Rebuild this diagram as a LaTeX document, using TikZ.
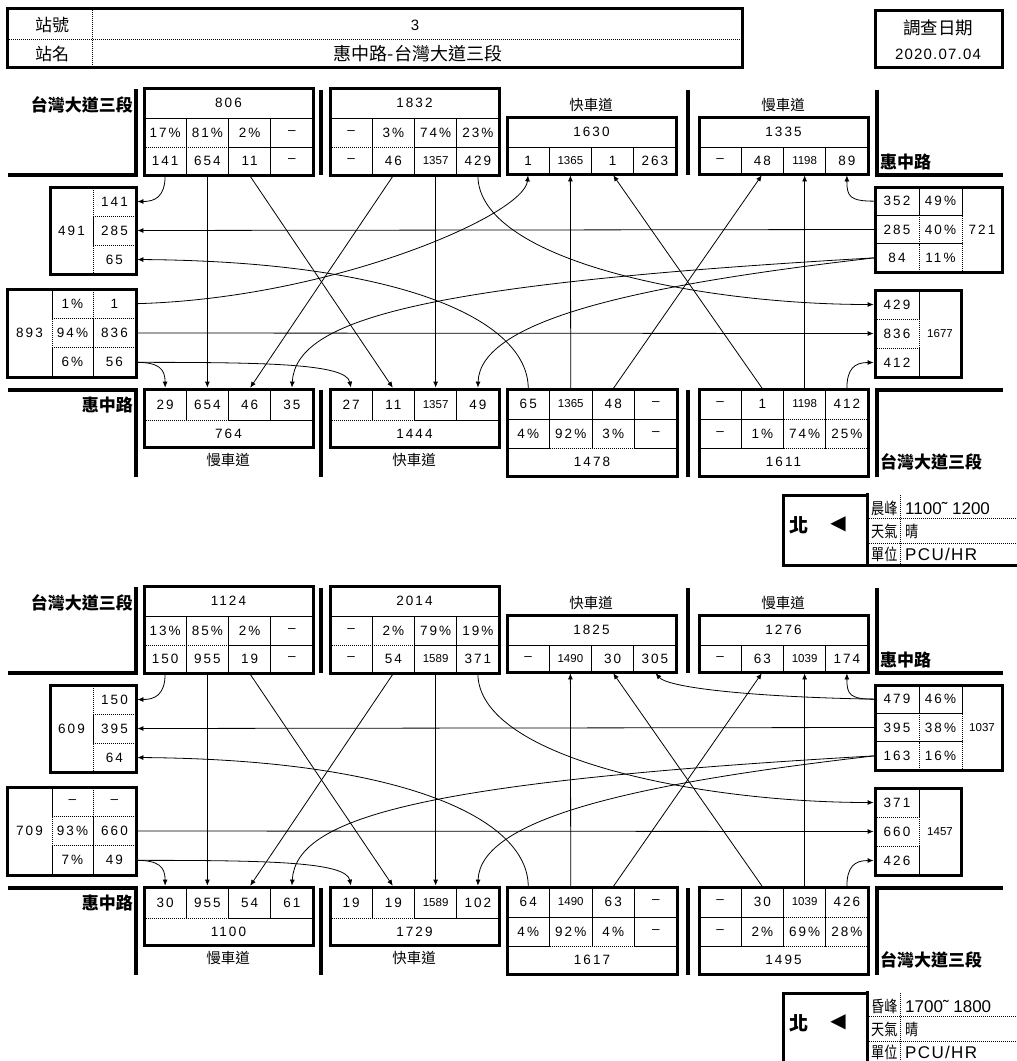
\documentclass[tikz,border=0pt]{standalone}
\usepackage{fontspec}
\setmainfont{Liberation Sans}
\newfontfamily\numfont[LetterSpace=15]{Liberation Sans}
\newfontfamily\datefont[LetterSpace=8]{Liberation Sans}
\newfontfamily\cjk{Noto Sans CJK TC}
\newfontfamily\cjknarrow[FakeStretch=0.82]{Noto Sans CJK TC}
\newfontfamily\symfont{DejaVu Sans}
\usetikzlibrary{arrows.meta}

\newcommand{\cellfont}{\numfont\fontsize{13.5}{14}\selectfont}
\newcommand{\sm}[1]{{\fontsize{11.5}{12}\selectfont\addfontfeature{LetterSpace=0}#1}}

% one cell, a row of four cells, a column of three cells
\newcommand{\cellat}[6]{%
  \node[cell, minimum width={(#3-#2)*1pt}, minimum height={(#5-#4)*1pt}]
    (#1) at ({(#2+#3)/2},{(#4+#5)/2}) {#6};}
\newcommand{\cellrow}[6]{%
  \foreach \cellval [count=\cellno] in {#6}
    \node[cell, minimum width={(#3-#2)/4*1pt}, minimum height={(#5-#4)*1pt}]
      (#1\cellno) at ({#2+(\cellno-0.5)*(#3-#2)/4},{(#4+#5)/2}) {\cellval};}
\newcommand{\cellcol}[6]{%
  \foreach \cellval [count=\cellno] in {#6}
    \node[cell, minimum width={(#3-#2)*1pt}, minimum height={(#5-#4)/3*1pt}]
      (#1\cellno) at ({(#2+#3)/2},{#4+(\cellno-0.5)*(#5-#4)/3}) {\cellval};}

\tikzset{
  dots/.style={line width=0.8pt, dash pattern=on 1pt off 1pt},
  cell/.style={draw, dots, inner sep=0pt, font=\cellfont},
  box/.style={line width=3pt},
  road/.style={line width=3.5pt},
  flow/.style={line width=0.8pt, -{Latex[length=6pt,width=5pt]}, shorten >=1pt},
  roadname/.style={font=\cjk\bfseries\fontsize{17}{17}\selectfont, inner sep=0pt},
  lanename/.style={font=\cjk\fontsize{14.5}{15}\selectfont, inner sep=0pt},
  cjktext/.style={font=\cjk\fontsize{17}{17}\selectfont, inner sep=0pt},
  keytext/.style={font=\cjknarrow\fontsize{16}{16}\selectfont, inner sep=0pt, anchor=west},
}

% boxes, road edges and names of one survey period
\newcommand{\roadframe}{%
  \draw[box] (144,88) rectangle (313,175);
  \draw[box] (330,88) rectangle (499,175);
  \draw[box] (507,117) rectangle (676,174);
  \draw[box] (699,117) rectangle (868,174);
  \draw[box] (875,187) rectangle (1002,272);
  \draw[box] (875,290) rectangle (961,377);
  \draw[box] (50,187) rectangle (136,274);
  \draw[box] (7,289) rectangle (136,377);
  \draw[box] (144,389) rectangle (313,447);
  \draw[box] (330,389) rectangle (499,447);
  \draw[box] (507,389) rectangle (677,476);
  \draw[box] (699,389) rectangle (868,476);
  \draw[road] (8,175) -- (136,175) -- (136,89);
  \draw[road] (321,90) -- (321,175);
  \draw[road] (688,90) -- (688,175);
  \draw[road] (877,90) -- (877,175) -- (1003,175);
  \draw[road] (8,390) -- (136,390) -- (136,477);
  \draw[road] (321,390) -- (321,477);
  \draw[road] (688,390) -- (688,477);
  \draw[road] (877,477) -- (877,390) -- (1003,390);
  \node[roadname, anchor=east] (nameN) at (133,105) {台灣大道三段};
  \node[roadname, anchor=west] (nameE) at (880,162) {惠中路};
  \node[roadname, anchor=east] (nameW) at (133,405) {惠中路};
  \node[roadname, anchor=west] (nameS) at (880,462) {台灣大道三段};
  \node[lanename] (laneC) at (591,105) {快車道};
  \node[lanename] (laneD) at (783,105) {慢車道};
  \node[lanename] (laneI) at (228,460) {慢車道};
  \node[lanename] (laneJ) at (414,460) {快車道};
}

% turning movements shared by both periods
\newcommand{\flows}{%
  \draw[flow] (tAv1.south) .. controls +(0,22) and +(18,0) .. (lGv1.east);
  \draw[flow] (tAv2.south) -- (bIv2.north);
  \draw[flow] (tAv3.south) -- (bJv2.north);
  \draw[flow] (tBv2.south) -- (bIv3.north);
  \draw[flow] (tBv3.south) -- (bJv3.north);
  \draw[flow] (tBv4.south) .. controls +(0,85) and +(-175,0) .. (rFv1.west);
  \draw[flow] (lHv2.east) -- (rFv2.west);
  \draw[flow] (lHv3.east) .. controls +(22,0) and +(0,-20) .. (bIv1.north);
  \draw[flow] (lHv3.east) .. controls +(130,0) and +(-5,-25) .. (bJv1.north);
  \draw[flow] (rEv1.west) .. controls +(-25,0) and +(0,22) .. (tDv4.south);
  \draw[flow] (rEv2.west) -- (lGv2.east);
  \draw[flow] (rEv3.west) .. controls +(-455,26) and +(4,-69) .. (bIv4.north);
  \draw[flow] (rEv3.west) .. controls +(-235,27) and +(2,-69) .. (bJv4.north);
  \draw[flow] (bKv1.north) .. controls +(0,-69) and +(264,2) .. (lGv3.east);
  \draw[flow] (bKv2.north) -- (tCv2.south);
  \draw[flow] (bKv3.north) -- (tDv2.south);
  \draw[flow] (bLv2.north) -- (tCv3.south);
  \draw[flow] (bLv3.north) -- (tDv3.south);
  \draw[flow] (bLv4.north) .. controls +(0,-20) and +(-20,0) .. (rFv3.west);
}

% legend: period, hours, weather, unit
\newcommand{\legendbox}[2]{%
  \draw[box] (1020,565) -- (783,565) -- (783,495) -- (867,495);
  \draw[box] (867,493) -- (867,566);
  \draw[dots] (867,518) -- (1020,518) (867,543) -- (1020,543) (900,495) -- (900,565);
  \node[font=\cjk\bfseries\fontsize{19}{19}\selectfont, inner sep=0pt] (nmark) at (799,525) {北};
  \node[font=\symfont\fontsize{20}{20}\selectfont, inner sep=0pt] (tri) at (838,524) {◀};
  \node[keytext] (peak) at (871,508) {#1};
  \node[anchor=west, inner sep=0pt, font=\fontsize{17}{17}\selectfont] (hours) at (905,508) {#2};
  \node[keytext] (wx) at (871,531) {天氣};
  \node[keytext] (wxval) at (905,531) {晴};
  \node[keytext] (unit) at (871,554) {單位};
  \node[anchor=west, inner sep=0pt, font=\datefont\fontsize{17}{17}\selectfont] (unitval) at (905,554) {PCU/HR};
}

\begin{document}
\begin{tikzpicture}[x=1pt, y=-1pt]
\useasboundingbox (0,0) rectangle (1017,1061);

% header
\draw[box] (7,8) rectangle (742,67);
\draw[dots] (7,39) -- (742,39) (92,8) -- (92,67);
\node[cjktext] (nolab) at (52,25) {站號};
\node[font=\datefont\fontsize{15}{15}\selectfont] (noval) at (415,25) {3};
\node[cjktext] (namelab) at (52,54) {站名};
\node[font=\cjk\fontsize{18}{18}\selectfont, inner sep=0pt] (nameval) at (418,54) {惠中路-台灣大道三段};
\draw[box] (875,10) rectangle (1002,67);
\node[font=\cjk\fontsize{17.5}{18}\selectfont, inner sep=0pt] (datelab) at (938,28) {調查日期};
\node[font=\datefont\fontsize{15}{15}\selectfont] (dateval) at (938,54) {2020.07.04};

% morning peak
\begin{scope}[name prefix=am-]
  \cellat{tAt}{144}{313}{88}{118}{806}
  \cellrow{tAp}{144}{313}{118}{147}{17\%,81\%,2\%,–}
  \cellrow{tAv}{144}{313}{147}{175}{141,654,11,–}
  \cellat{tBt}{330}{499}{88}{118}{1832}
  \cellrow{tBp}{330}{499}{118}{147}{–,3\%,74\%,23\%}
  \cellrow{tBv}{330}{499}{147}{175}{–,46,\sm{1357},429}
  \cellat{tCt}{507}{676}{117}{147}{1630}
  \cellrow{tCv}{507}{676}{147}{174}{1,\sm{1365},1,263}
  \cellat{tDt}{699}{868}{117}{147}{1335}
  \cellrow{tDv}{699}{868}{147}{174}{–,48,\sm{1198},89}
  \cellcol{rEv}{875}{919}{187}{272}{352,285,84}
  \cellcol{rEp}{919}{962}{187}{272}{49\%,40\%,11\%}
  \cellat{rEt}{962}{1002}{187}{272}{721}
  \cellcol{rFv}{875}{919}{290}{377}{429,836,412}
  \cellat{rFt}{919}{961}{290}{377}{\sm{1677}}
  \cellat{lGt}{50}{93}{187}{274}{491}
  \cellcol{lGv}{93}{136}{187}{274}{141,285,65}
  \cellat{lHt}{7}{52}{289}{377}{893}
  \cellcol{lHp}{52}{93}{289}{377}{1\%,94\%,6\%}
  \cellcol{lHv}{93}{136}{289}{377}{1,836,56}
  \cellrow{bIv}{144}{313}{389}{420}{29,654,46,35}
  \cellat{bIt}{144}{313}{420}{447}{764}
  \cellrow{bJv}{330}{499}{389}{420}{27,11,\sm{1357},49}
  \cellat{bJt}{330}{499}{420}{447}{1444}
  \cellrow{bKv}{507}{677}{389}{419}{65,\sm{1365},48,–}
  \cellrow{bKp}{507}{677}{419}{448}{4\%,92\%,3\%,–}
  \cellat{bKt}{507}{677}{448}{476}{1478}
  \cellrow{bLv}{699}{868}{389}{419}{–,1,\sm{1198},412}
  \cellrow{bLp}{699}{868}{419}{448}{–,1\%,74\%,25\%}
  \cellat{bLt}{699}{868}{448}{476}{1611}
  \roadframe
  \flows
  \draw[flow] (lHv1.east) .. controls +(194,-5) and +(-4,41) .. (tCv1.south);
  \legendbox{晨峰}{1100˜ 1200}
\end{scope}

% evening peak
\begin{scope}[yshift=-498pt, name prefix=pm-]
  \cellat{tAt}{144}{313}{88}{118}{1124}
  \cellrow{tAp}{144}{313}{118}{147}{13\%,85\%,2\%,–}
  \cellrow{tAv}{144}{313}{147}{175}{150,955,19,–}
  \cellat{tBt}{330}{499}{88}{118}{2014}
  \cellrow{tBp}{330}{499}{118}{147}{–,2\%,79\%,19\%}
  \cellrow{tBv}{330}{499}{147}{175}{–,54,\sm{1589},371}
  \cellat{tCt}{507}{676}{117}{147}{1825}
  \cellrow{tCv}{507}{676}{147}{174}{–,\sm{1490},30,305}
  \cellat{tDt}{699}{868}{117}{147}{1276}
  \cellrow{tDv}{699}{868}{147}{174}{–,63,\sm{1039},174}
  \cellcol{rEv}{875}{919}{187}{272}{479,395,163}
  \cellcol{rEp}{919}{962}{187}{272}{46\%,38\%,16\%}
  \cellat{rEt}{962}{1002}{187}{272}{\sm{1037}}
  \cellcol{rFv}{875}{919}{290}{377}{371,660,426}
  \cellat{rFt}{919}{961}{290}{377}{\sm{1457}}
  \cellat{lGt}{50}{93}{187}{274}{609}
  \cellcol{lGv}{93}{136}{187}{274}{150,395,64}
  \cellat{lHt}{7}{52}{289}{377}{709}
  \cellcol{lHp}{52}{93}{289}{377}{–,93\%,7\%}
  \cellcol{lHv}{93}{136}{289}{377}{–,660,49}
  \cellrow{bIv}{144}{313}{389}{420}{30,955,54,61}
  \cellat{bIt}{144}{313}{420}{447}{1100}
  \cellrow{bJv}{330}{499}{389}{420}{19,19,\sm{1589},102}
  \cellat{bJt}{330}{499}{420}{447}{1729}
  \cellrow{bKv}{507}{677}{389}{419}{64,\sm{1490},63,–}
  \cellrow{bKp}{507}{677}{419}{448}{4\%,92\%,4\%,–}
  \cellat{bKt}{507}{677}{448}{476}{1617}
  \cellrow{bLv}{699}{868}{389}{419}{–,30,\sm{1039},426}
  \cellrow{bLp}{699}{868}{419}{448}{–,2\%,69\%,28\%}
  \cellat{bLt}{699}{868}{448}{476}{1495}
  \roadframe
  \flows
  \draw[flow] (rEv1.west) .. controls +(-115,-2) and +(14,16) .. (tCv4.south);
  \legendbox{昏峰}{1700˜ 1800}
\end{scope}
\end{tikzpicture}
\end{document}
